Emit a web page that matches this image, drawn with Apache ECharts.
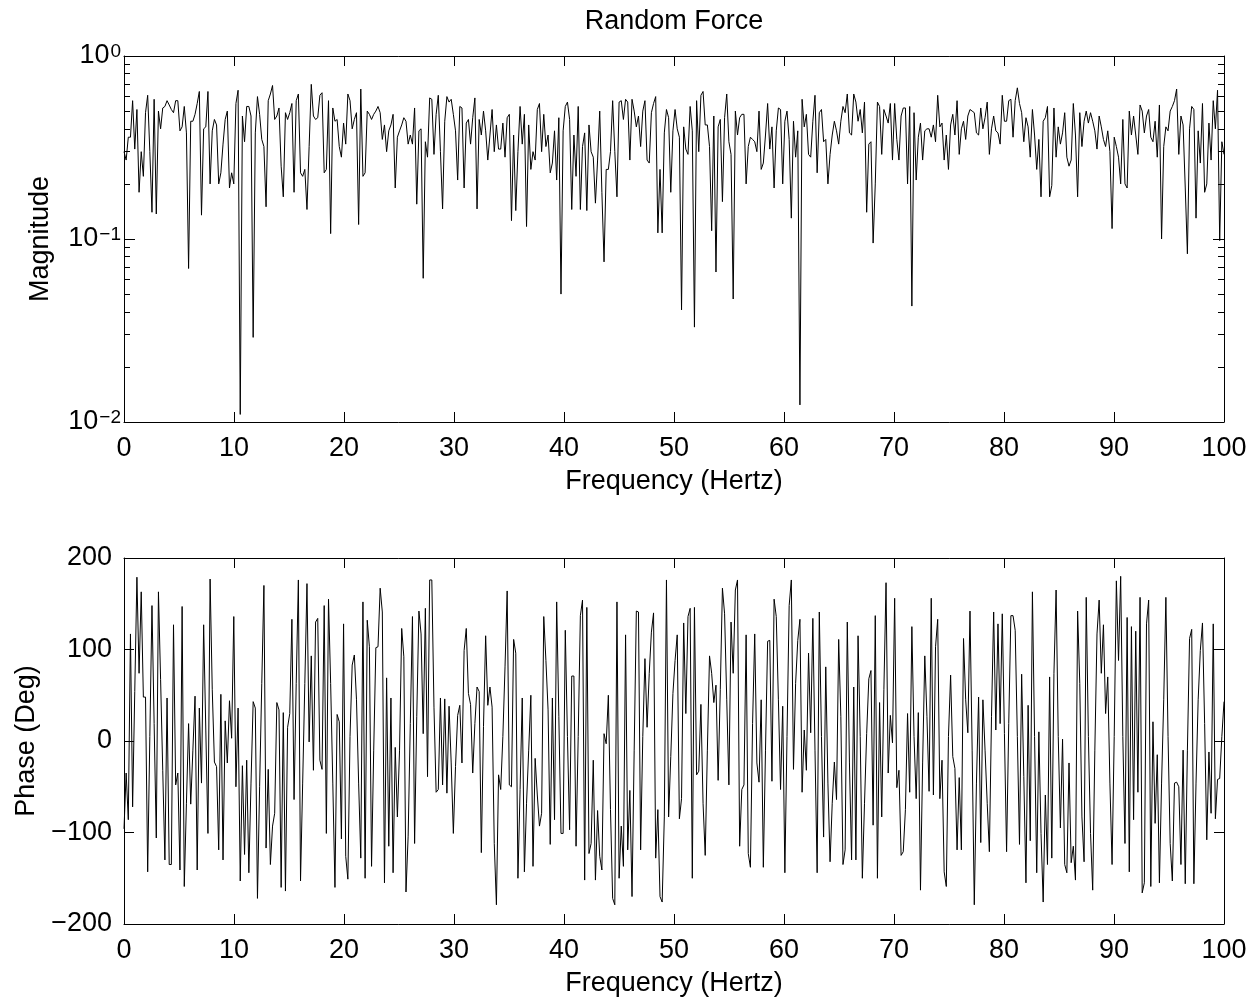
<!DOCTYPE html>
<html><head><meta charset="utf-8">
<script src="https://cdn.jsdelivr.net/npm/echarts@6/dist/echarts.min.js"></script>
<style>html,body{margin:0;padding:0;background:#fff}#c{width:1260px;height:1002px}</style>
</head><body><div id="c"></div>
<script>
// ---- data ----
const magSeg1 = [0.30,0.27,0.36,0.36,0.57,0.31,0.51,0.18,0.30,0.22,0.49,
0.61,0.30,0.14,0.58,0.137,0.50,0.40,0.52,0.53,0.57,
0.54,0.51,0.49,0.57,0.57,0.39,0.41,0.53,0.38,0.069,
0.44,0.44,0.48,0.55,0.64,0.135,0.40,0.41,0.64,0.20,
0.39,0.45,0.42,0.20,0.23,0.33,0.45,0.50,0.19,0.23,
0.20,0.55,0.65,0.011,0.47,0.34,0.53,0.53,0.47,0.029,
0.38,0.60,0.48,0.35,0.32,0.15,0.57,0.62,0.69,0.45,
0.47,0.52,0.25,0.17,0.49,0.45,0.49,0.55,0.18,0.57,
0.62,0.23,0.22,0.24,0.145,0.32];
const magSeg2 = [0.70,0.47,0.45,0.46,0.61,0.63,0.23,0.24,0.57,0.107,
0.52,0.44,0.45,0.32,0.28,0.43,0.33,0.62,0.57,0.40,
0.45,0.49,0.12,0.66,0.22,0.23,0.50,0.48,0.45,0.48,
0.50,0.53,0.49,0.35,0.42,0.30,0.39,0.42,0.48,0.19,
0.36,0.39,0.42,0.46,0.44,0.33,0.37,0.33,0.52,0.155,
0.39,0.40,0.061,0.34,0.28,0.59,0.58,0.29,0.48,0.61,
0.30,0.146,0.44,0.60,0.56,0.58,0.48,0.39,0.21,0.53,
0.52,0.19,0.43,0.45,0.33,0.46,0.59,0.146,0.45,0.37,
0.50,0.39,0.27,0.37,0.51,0.30];
const magSeg3 = [0.42,0.31,0.31,0.43,0.28,0.46,0.48,0.126,0.37,0.143,
0.30,0.53,0.33,0.48,0.117,0.42,0.24,0.30,0.27,0.51,
0.55,0.30,0.48,0.32,0.37,0.23,0.26,0.39,0.21,0.46,
0.050,0.39,0.53,0.56,0.45,0.145,0.37,0.22,0.53,0.145,
0.32,0.38,0.143,0.42,0.30,0.28,0.157,0.27,0.50,0.18,
0.075,0.24,0.24,0.30,0.57,0.30,0.17,0.56,0.57,0.45,
0.58,0.56,0.27,0.58,0.50,0.41,0.47,0.32,0.50,0.57,
0.27,0.26,0.49,0.55,0.60,0.108,0.24,0.108,0.38,0.51,
0.46,0.18,0.39,0.51,0.40,0.36];
const magSeg4 = [0.041,0.41,0.31,0.29,0.53,0.39,0.033,0.57,0.30,0.61,
0.64,0.42,0.42,0.32,0.111,0.47,0.066,0.41,0.45,0.16,
0.46,0.62,0.34,0.29,0.047,0.50,0.37,0.46,0.48,0.48,
0.20,0.32,0.36,0.35,0.34,0.30,0.50,0.24,0.26,0.37,
0.55,0.31,0.41,0.19,0.39,0.52,0.51,0.20,0.44,0.50,
0.35,0.13,0.44,0.28,0.39,0.0124,0.58,0.41,0.48,0.29,
0.28,0.44,0.61,0.23,0.49,0.51,0.34,0.35,0.20,0.29,
0.37,0.44,0.39,0.33,0.44,0.53,0.49,0.62,0.38,0.37,
0.62,0.56,0.44,0.51,0.38,0.56];
const magSeg5 = [0.14,0.33,0.34,0.095,0.20,0.56,0.53,0.29,0.51,0.47,
0.43,0.55,0.27,0.55,0.35,0.27,0.47,0.52,0.52,0.20,
0.53,0.043,0.49,0.21,0.36,0.43,0.27,0.39,0.40,0.40,
0.36,0.42,0.34,0.61,0.41,0.43,0.27,0.37,0.24,0.42,
0.48,0.37,0.57,0.29,0.40,0.44,0.35,0.47,0.51,0.50,
0.49,0.38,0.37,0.52,0.40,0.46,0.56,0.29,0.40,0.47,
0.39,0.38,0.33,0.61,0.44,0.44,0.57,0.58,0.36,0.57,
0.67,0.55,0.49,0.34,0.46,0.41,0.28,0.51,0.37,0.24,
0.35,0.17,0.44,0.46,0.53,0.17];
const magSeg6 = [0.196,0.52,0.28,0.41,0.33,0.38,0.49,0.28,0.25,0.27,
0.55,0.37,0.17,0.49,0.32,0.44,0.50,0.43,0.49,0.44,
0.39,0.31,0.47,0.41,0.35,0.32,0.39,0.30,0.114,0.36,
0.32,0.28,0.20,0.45,0.20,0.19,0.50,0.37,0.47,0.37,
0.29,0.54,0.50,0.38,0.47,0.51,0.36,0.34,0.44,0.28,
0.54,0.10,0.32,0.41,0.39,0.50,0.53,0.57,0.66,0.29,
0.47,0.42,0.19,0.083,0.40,0.53,0.51,0.13,0.39,0.26,
0.55,0.18,0.20,0.43,0.27,0.57,0.40,0.65,0.098,0.34,
0.29];

const phSeg1 = [-96,-35,-86,117,-72,54,179,74,163,48,
48,-143,5,148,19,-106,163,67,-32,-130,
47,-135,-135,127,-48,-35,-141,147,-159,-68,
19,-69,-10,49,-141,36,-46,127,12,-101,
177,56,-23,-28,-119,51,-130,22,-24,44,
3,136,-50,36,-153,-27,-124,-21,-144,-46,
43,36,-172,-50,63,170,-117,-31,-135,-93,
-79,42,34,-160,31,-164,15,30,133,-64,
63,176,-153,-46,63,172];
const phSeg2 = [-1,93,-32,130,134,-21,-31,148,-101,155,
63,-46,-160,29,21,-107,128,-126,-151,5,
83,94,45,-46,-128,152,-150,132,103,-137,
-10,102,103,167,141,-155,69,-115,47,-144,
-7,-83,-10,123,92,-165,-104,19,136,-112,
27,142,117,8,145,-39,176,176,37,-56,
-53,47,-48,46,-57,38,-24,-101,-28,28,
39,-24,99,123,52,40,-35,19,59,54,
-122,16,115,39,59,37];
const phSeg3 = [-112,-179,-37,-53,5,81,164,-48,-50,111,
96,-150,-53,47,-143,-68,-10,50,-137,-19,
-59,-93,-79,136,88,34,-113,47,-86,152,
27,-101,-101,121,5,-97,71,71,-115,5,
137,154,-152,146,-123,-112,-21,-152,-76,-126,
-141,8,-3,50,-75,-172,-179,152,-150,-93,
-137,116,-119,-54,-170,-10,142,141,-119,5,
90,15,74,119,140,-128,-75,-170,-176,-83,
176,-83,-17,52,88,116];
const phSeg4 = [-85,-63,129,30,136,145,-150,146,-37,-33,
40,-68,-125,-10,93,74,42,61,-43,56,
167,139,45,-48,130,74,165,176,-115,-53,
-48,116,-123,-138,19,117,-24,-45,45,-138,
-10,109,110,-44,155,136,45,-53,38,-144,
5,148,176,-31,63,110,133,-56,12,-32,
96,9,134,-10,-144,141,5,-105,81,-46,
-132,-68,-23,-64,111,27,-135,-119,130,-24,
-130,59,-130,115,5,-150];
const phSeg5 = [-68,8,68,77,-92,137,-150,42,-83,56,
173,-35,28,-2,156,-51,-32,-125,-121,-75,
30,-56,125,5,-63,31,-163,-24,93,27,
-55,156,-59,103,133,-63,-21,-143,-159,5,
72,-17,-30,-119,-40,-119,112,45,9,142,
-10,-179,-46,48,-111,45,-10,-68,-121,27,
141,12,128,19,139,8,-121,19,137,137,
121,5,-113,73,-39,-155,39,-109,163,5,
-144,10,-101,-176,-59,-135,70];
const phSeg6 = [-128,74,165,5,-95,2,-135,-144,-24,-133,
-115,-152,142,63,-83,-132,157,5,-101,-163,
-10,117,154,74,127,30,70,-46,-135,5,
175,88,180,5,-112,135,-143,125,-86,120,
-56,157,-166,-155,128,154,-159,21,-90,-15,
-155,-46,45,157,5,-112,-153,-46,-45,-50,
-135,-10,-156,-10,112,122,-156,-46,45,99,
129,19,-108,-12,-79,128,-85,-42,-41,5,
43];

const magnitude = [].concat(magSeg1, magSeg2, magSeg3, magSeg4, magSeg5, magSeg6);
const phase = [].concat(phSeg1, phSeg2, phSeg3, phSeg4, phSeg5, phSeg6);
const freqMax = 100;
const xTicks = [0,10,20,30,40,50,60,70,80,90,100];
const magMajorTicks = [0.01, 0.1, 1];
const magMinorTicks = [0.02,0.03,0.04,0.05,0.06,0.07,0.08,0.09,0.2,0.3,0.4,0.5,0.6,0.7,0.8,0.9];
const phaseTicks = [-200,-100,0,100,200];

// frequency bins evenly spaced from 0 to 100 Hz
const nPts = magnitude.length;
const freq = magnitude.map((_, i) => i * freqMax / (nPts - 1));
const magData = magnitude.map((v, i) => [freq[i], v]);
const phData = phase.slice(0, nPts).map((v, i) => [freq[i], v]);

const FONT = 'Liberation Sans, Arial, Helvetica, sans-serif';
const FS = 27;
const black = '#000';
const minus = s => String(s).replace('-', '\u2212');

function xAx(grid, pos, showLabel) {
  return {
    type: 'value', gridIndex: grid, position: pos, min: 0, max: freqMax, interval: 10,
    axisLine: {show: true, onZero: false, lineStyle: {color: black, width: 1}},
    axisTick: {show: true, inside: true, length: 10, lineStyle: {color: black}},
    axisLabel: {show: showLabel, color: black, fontSize: FS, fontFamily: FONT, margin: 13},
    splitLine: {show: false},
    name: showLabel ? 'Frequency (Hertz)' : '',
    nameLocation: 'middle', nameGap: 46,
    nameTextStyle: {color: black, fontSize: FS, fontFamily: FONT}
  };
}
function logAx(pos, ticks, len, showLabel, withLine, name) {
  return {
    type: 'log', logBase: 10, gridIndex: 0, position: pos, min: 0.01, max: 1,
    axisLine: {show: withLine, onZero: false, lineStyle: {color: black, width: 1}},
    axisTick: {show: true, inside: true, length: len, customValues: ticks, lineStyle: {color: black}},
    axisLabel: {
      show: showLabel, customValues: ticks, margin: 3, color: black, fontFamily: FONT,
      formatter: v => {
        const e = Math.round(Math.log10(v));
        return '{b|10}{s|' + minus(e) + '}';
      },
      rich: {
        b: {fontSize: FS, fontFamily: FONT, color: black, verticalAlign: 'bottom', lineHeight: FS},
        s: {fontSize: 19, fontFamily: FONT, color: black, verticalAlign: 'top', lineHeight: 19, padding: [0, 0, 14, 1]}
      }
    },
    splitLine: {show: false},
    name: name || '', nameLocation: 'middle', nameGap: 70,
    nameTextStyle: {color: black, fontSize: FS, fontFamily: FONT}
  };
}
function phAx(pos, showLabel, name) {
  return {
    type: 'value', gridIndex: 1, position: pos, min: -200, max: 200, interval: 100,
    axisLine: {show: true, onZero: false, lineStyle: {color: black, width: 1}},
    axisTick: {show: true, inside: true, length: 10, lineStyle: {color: black}},
    axisLabel: {show: showLabel, color: black, fontSize: FS, fontFamily: FONT, margin: 12, formatter: v => minus(v)},
    splitLine: {show: false},
    name: name || '', nameLocation: 'middle', nameGap: 80,
    nameTextStyle: {color: black, fontSize: FS, fontFamily: FONT}
  };
}

const chart = echarts.init(document.getElementById('c'), null, {renderer: 'canvas'});
chart.setOption({
  animation: false,
  backgroundColor: '#fff',
  graphic: [{
    type: 'text', x: 674, y: 22, silent: true,
    style: {text: 'Random Force', fill: black, font: FS + 'px ' + FONT, textAlign: 'center', textVerticalAlign: 'middle'}
  }],
  grid: [
    {left: 124, top: 56, width: 1100, height: 366},
    {left: 124, top: 558, width: 1100, height: 366}
  ],
  xAxis: [xAx(0, 'bottom', true), xAx(0, 'top', false), xAx(1, 'bottom', true), xAx(1, 'top', false)],
  yAxis: [
    logAx('left', magMajorTicks, 11, true, true, 'Magnitude'),
    logAx('left', magMinorTicks, 6, false, false),
    logAx('right', magMajorTicks, 11, false, true),
    logAx('right', magMinorTicks, 6, false, false),
    phAx('left', true, 'Phase (Deg)'),
    phAx('right', false)
  ],
  series: [
    {type: 'line', xAxisIndex: 0, yAxisIndex: 0, data: magData, showSymbol: false, symbol: 'none',
      lineStyle: {color: black, width: 1}, silent: true},
    {type: 'line', xAxisIndex: 2, yAxisIndex: 4, data: phData, showSymbol: false, symbol: 'none',
      lineStyle: {color: black, width: 1}, silent: true}
  ]
});
</script></body></html>
